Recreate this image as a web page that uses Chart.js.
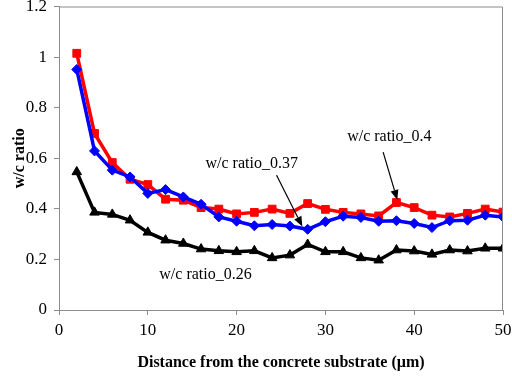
<!DOCTYPE html>
<html>
<head>
<meta charset="utf-8">
<script src="https://cdn.jsdelivr.net/npm/chart.js@4.4.1/dist/chart.umd.min.js"></script>
<style>
  html, body { margin: 0; padding: 0; background: #fff; }
  #wrap { width: 512px; height: 376px; }
</style>
</head>
<body>
<div id="wrap"><canvas id="wcChart"></canvas></div>
<script>
// distances (um) and w/c ratio readings
var distance = [2, 4, 6, 8, 10, 12, 14, 16, 18, 20, 22, 24, 26, 28, 30, 32, 34, 36, 38, 40, 42, 44, 46, 48, 50];
var wc037 = [0.951, 0.629, 0.553, 0.526, 0.461, 0.476, 0.447, 0.418, 0.368, 0.351, 0.333, 0.338, 0.332, 0.319, 0.349, 0.371, 0.366, 0.351, 0.353, 0.342, 0.326, 0.353, 0.355, 0.375, 0.368];
var wc04 = [1.015, 0.698, 0.583, 0.517, 0.496, 0.438, 0.434, 0.405, 0.399, 0.380, 0.386, 0.399, 0.382, 0.421, 0.398, 0.386, 0.380, 0.372, 0.425, 0.405, 0.375, 0.368, 0.382, 0.399, 0.387];
var wc026 = [0.546, 0.386, 0.378, 0.355, 0.307, 0.276, 0.263, 0.241, 0.234, 0.230, 0.234, 0.206, 0.217, 0.259, 0.230, 0.230, 0.206, 0.197, 0.237, 0.233, 0.220, 0.237, 0.233, 0.244, 0.244];

var xTicks = [0, 10, 20, 30, 40, 50];
var yTicks = [0, 0.2, 0.4, 0.6, 0.8, 1, 1.2];

// callouts: label text position and arrow (data units)
var callouts = [
    { text: 'w/c ratio_0.37', x: 21.7, y: 0.58, arrow: [24.5, 0.533, 27.4, 0.33] },
    { text: 'w/c ratio_0.4', x: 37.2, y: 0.683, arrow: [36.5, 0.624, 38.1, 0.435] },
    { text: 'w/c ratio_0.26', x: 16.5, y: 0.138, arrow: null }
];

function toPoints(vals) {
    return distance.map(function(d, i) { return { x: d, y: vals[i] }; });
}

var serif = "'Liberation Serif', 'Times New Roman', serif";
var axisGrey = '#8c8c8c';

var calloutPlugin = {
    id: 'callouts',
    afterDatasetsDraw: function(chart) {
        var ctx = chart.ctx;
        var xs = chart.scales.x, ys = chart.scales.y;
        var area = chart.chartArea;
        ctx.save();
        // plot frame (top / right)
        ctx.strokeStyle = axisGrey;
        ctx.lineWidth = 1;
        ctx.beginPath();
        ctx.moveTo(area.left, area.top + 0.5);
        ctx.lineTo(area.right - 0.5, area.top + 0.5);
        ctx.lineTo(area.right - 0.5, area.bottom);
        ctx.stroke();

        ctx.fillStyle = '#000';
        ctx.strokeStyle = '#000';
        ctx.font = '16px ' + serif;
        ctx.textAlign = 'center';
        ctx.textBaseline = 'middle';
        callouts.forEach(function(c) {
            ctx.fillText(c.text, xs.getPixelForValue(c.x), ys.getPixelForValue(c.y));
            if (c.arrow) {
                var x1 = xs.getPixelForValue(c.arrow[0]), y1 = ys.getPixelForValue(c.arrow[1]);
                var x2 = xs.getPixelForValue(c.arrow[2]), y2 = ys.getPixelForValue(c.arrow[3]);
                var ang = Math.atan2(y2 - y1, x2 - x1);
                var hl = 10, hw = 4;
                ctx.lineWidth = 1.2;
                ctx.beginPath();
                ctx.moveTo(x1, y1);
                ctx.lineTo(x2 - Math.cos(ang) * hl, y2 - Math.sin(ang) * hl);
                ctx.stroke();
                ctx.beginPath();
                ctx.moveTo(x2, y2);
                ctx.lineTo(x2 - Math.cos(ang) * hl - Math.sin(ang) * hw, y2 - Math.sin(ang) * hl + Math.cos(ang) * hw);
                ctx.lineTo(x2 - Math.cos(ang) * hl + Math.sin(ang) * hw, y2 - Math.sin(ang) * hl - Math.cos(ang) * hw);
                ctx.closePath();
                ctx.fill();
            }
        });
        ctx.restore();
    }
};

var ctx1 = document.getElementById('wcChart');
var wcChart = new Chart(ctx1, {
    type: 'line',
    data: {
        datasets: [{
            label: 'w/c ratio_0.26',
            data: toPoints(wc026),
            borderColor: '#000000',
            backgroundColor: '#000000',
            borderWidth: 3.5,
            pointStyle: 'triangle',
            pointRadius: 5.5,
            pointBorderWidth: 1
        }, {
            label: 'w/c ratio_0.37',
            data: toPoints(wc037),
            borderColor: '#0000ff',
            backgroundColor: '#0000ff',
            borderWidth: 3.5,
            pointStyle: 'rectRot',
            pointRadius: 5,
            pointBorderWidth: 1
        }, {
            label: 'w/c ratio_0.4',
            data: toPoints(wc04),
            borderColor: '#ff0000',
            backgroundColor: '#ff0000',
            borderWidth: 3.5,
            pointStyle: 'rect',
            pointRadius: 5.5,
            pointBorderWidth: 1
        }]
    },
    options: {
        responsive: true,
        maintainAspectRatio: false,
        animation: false,
        layout: { padding: { top: 6, right: 9, left: 6, bottom: 0 } },
        plugins: {
            legend: { display: false },
            tooltip: { enabled: false }
        },
        scales: {
            x: {
                type: 'linear',
                min: 0,
                max: 50,
                afterBuildTicks: function(scale) {
                    scale.ticks = xTicks.map(function(v) { return { value: v }; });
                },
                afterFit: function(scale) {
                    scale.height = 66;
                    scale.paddingLeft = 0;
                    scale.paddingRight = 0;
                },
                grid: { drawOnChartArea: false, color: axisGrey, tickLength: 5 },
                border: { color: axisGrey },
                ticks: { color: '#000', font: { family: serif, size: 17 }, padding: 5 },
                title: {
                    display: true,
                    text: 'Distance from the concrete substrate (\u00b5m)',
                    color: '#000',
                    font: { family: serif, size: 16, weight: 'bold' },
                    padding: { top: 10 }
                }
            },
            y: {
                min: 0,
                max: 1.2,
                afterBuildTicks: function(scale) {
                    scale.ticks = yTicks.map(function(v) { return { value: v }; });
                },
                afterFit: function(scale) {
                    scale.width = 53;
                    scale.paddingTop = 0;
                    scale.paddingBottom = 0;
                },
                grid: { drawOnChartArea: false, color: axisGrey, tickLength: 5 },
                border: { color: axisGrey },
                ticks: {
                    color: '#000',
                    font: { family: serif, size: 17 },
                    padding: 7,
                    callback: function(v) { return String(v); }
                },
                title: {
                    display: true,
                    text: 'w/c ratio',
                    color: '#000',
                    font: { family: serif, size: 16, weight: 'bold' },
                    padding: { bottom: 2 }
                }
            }
        }
    },
    plugins: [calloutPlugin]
});
</script>
</body>
</html>
